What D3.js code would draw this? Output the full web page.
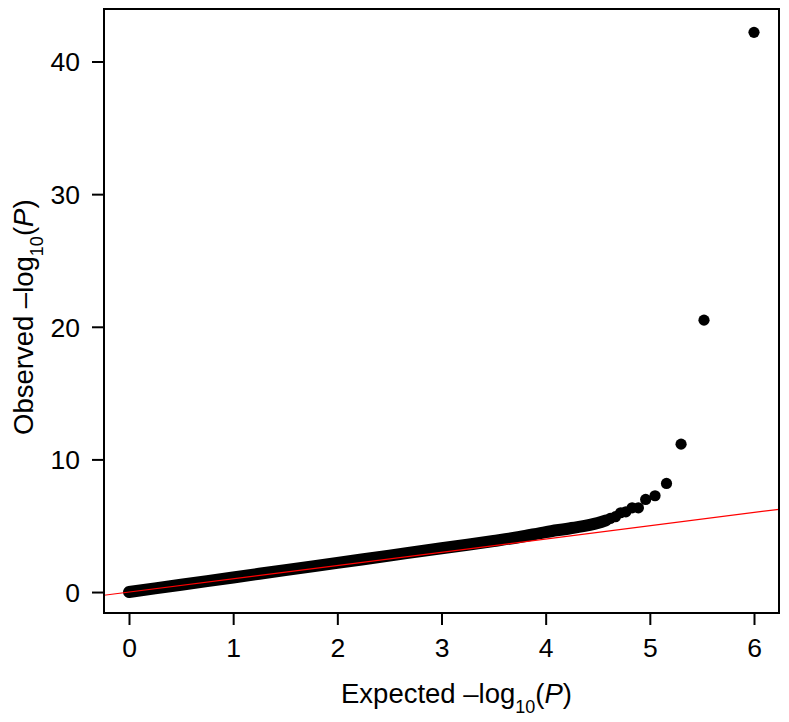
<!DOCTYPE html>
<html>
<head>
<meta charset="utf-8">
<script src="https://cdn.jsdelivr.net/npm/d3@7"></script>
<style>
  body { margin: 0; background: #fff; }
  svg text { font-family: "Liberation Sans", Arial, sans-serif; fill: #000; }
</style>
</head>
<body>
<div id="chart"></div>
<script>
// dense part of the QQ band (expected vs observed -log10 P)
var band_expected = [0, 0.5, 1.0, 1.5, 2.0, 2.5, 3.0, 3.25, 3.5, 3.75, 4.0, 4.25, 4.5, 4.58];
var band_observed = [0, 0.55, 1.1, 1.65, 2.2, 2.75, 3.3, 3.57, 3.85, 4.15, 4.52, 4.83, 5.2, 5.4];

// separate points in the tail
var tail_expected = [4.62, 4.67, 4.72, 4.77, 4.83, 4.89, 4.96, 5.05, 5.16, 5.30, 5.52, 6.00];
var tail_observed = [5.55, 5.68, 5.98, 6.05, 6.35, 6.35, 6.98, 7.26, 8.19, 11.15, 20.5, 42.2];

var x_ticks = [0, 1, 2, 3, 4, 5, 6];
var y_ticks = [0, 10, 20, 30, 40];

var chart_width = 789;
var chart_height = 722;
var box = {left: 104, right: 779, top: 9, bottom: 613};

var svg = d3.select('#chart')
    .append('svg')
    .attr('width', chart_width)
    .attr('height', chart_height);

// Scales
var x_scale = d3.scaleLinear()
    .domain([-0.24, 6.24])
    .range([box.left, box.right]);
var y_scale = d3.scaleLinear()
    .domain([-1.58, 43.96])
    .range([box.bottom, box.top]);

var band = band_expected.map(function(e, i){
    return {x: e, y: band_observed[i]};
});
var tail = tail_expected.map(function(e, i){
    return {x: e, y: tail_observed[i]};
});

var plot = svg.append('g');

// dense band of points
var line = d3.line()
    .x(function(d){ return x_scale(d.x); })
    .y(function(d){ return y_scale(d.y); })
    .curve(d3.curveMonotoneX);

plot.append('path')
    .datum(band)
    .attr('fill', 'none')
    .attr('stroke', '#000')
    .attr('stroke-width', 12)
    .attr('stroke-linecap', 'round')
    .attr('d', line);

plot.selectAll('circle')
    .data(tail)
    .enter()
    .append('circle')
    .attr('cx', function(d){ return x_scale(d.x); })
    .attr('cy', function(d){ return y_scale(d.y); })
    .attr('r', 5.6)
    .attr('fill', '#000');

// y = x reference line
var x_dom = x_scale.domain();
plot.append('line')
    .attr('x1', x_scale(x_dom[0]))
    .attr('y1', y_scale(x_dom[0]))
    .attr('x2', x_scale(x_dom[1]))
    .attr('y2', y_scale(x_dom[1]))
    .attr('stroke', '#ff0000')
    .attr('stroke-width', 1.2);

// Axes
var x_axis = d3.axisBottom(x_scale)
    .tickValues(x_ticks)
    .tickFormat(d3.format('d'))
    .tickSizeOuter(0)
    .tickSizeInner(12)
    .tickPadding(13);
var y_axis = d3.axisLeft(y_scale)
    .tickValues(y_ticks)
    .tickFormat(d3.format('d'))
    .tickSizeOuter(0)
    .tickSizeInner(12)
    .tickPadding(12);

var gx = svg.append('g')
    .attr('transform', 'translate(0,' + box.bottom + ')')
    .call(x_axis);
var gy = svg.append('g')
    .attr('transform', 'translate(' + box.left + ',0)')
    .call(y_axis);

[gx, gy].forEach(function(g){
    g.select('.domain').remove();
    g.selectAll('line').attr('stroke', '#000').attr('stroke-width', 2);
    g.selectAll('text')
        .attr('font-size', 26.5)
        .style('font-family', '"Liberation Sans", Arial, sans-serif');
});
gy.selectAll('text').attr('dy', '0.35em');

// Frame
svg.append('rect')
    .attr('x', box.left)
    .attr('y', box.top)
    .attr('width', box.right - box.left)
    .attr('height', box.bottom - box.top)
    .attr('fill', 'none')
    .attr('stroke', '#000')
    .attr('stroke-width', 2);

// Axis titles
function addTitle(t, word){
    t.append('tspan').text(word + ' \u2013log');
    t.append('tspan').attr('font-size', 18).attr('dy', 10).text('10');
    t.append('tspan').attr('dy', -10).text('(');
    t.append('tspan').attr('font-style', 'italic').text('P');
    t.append('tspan').text(')');
}

var xt = svg.append('text')
    .attr('x', 341)
    .attr('y', 703)
    .attr('font-size', 27.5);
addTitle(xt, 'Expected');

var yt = svg.append('text')
    .attr('transform', 'translate(33,435) rotate(-90)')
    .attr('font-size', 27.5);
addTitle(yt, 'Observed');
</script>
</body>
</html>
